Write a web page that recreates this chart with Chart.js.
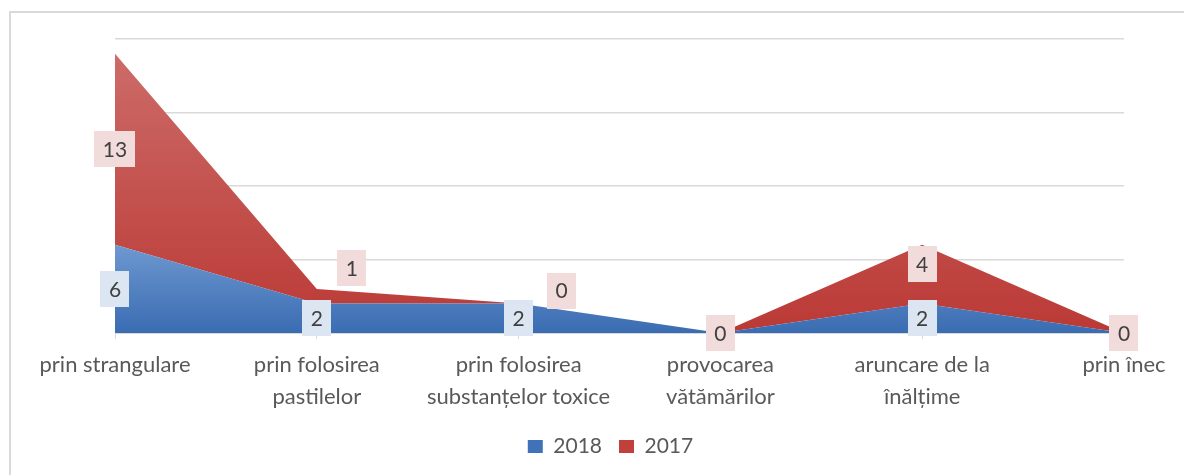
<!DOCTYPE html>
<html>
<head>
<meta charset="utf-8">
<script src="https://cdn.jsdelivr.net/npm/chart.js@4.4.0/dist/chart.umd.min.js"></script>
<style>
  body { margin: 0; background: #fff; }
  canvas { display: block; }
</style>
</head>
<body>
<canvas id="canvas" width="1184" height="475"></canvas>
<script>
const canvas = document.getElementById("canvas");

const categories = [
  "prin strangulare",
  ["prin folosirea", "pastilelor"],
  ["prin folosirea", "substanțelor toxice"],
  ["provocarea", "vătămărilor"],
  ["aruncare de la", "înălțime"],
  "prin înec"
];
const values2018 = [6, 2, 2, 0, 2, 0];
const values2017 = [13, 1, 0, 0, 4, 0];
const yTicks = [0, 5, 10, 15, 20];

const FONT = "Lato, 'Open Sans', sans-serif";

// nudges for a few data labels that sit off the band middle in the original
const labelShift = {
  "1:1": [35, -28],
  "1:2": [43, -13],
  "1:4": [0, -10]
};

function vGradient(chart, fromValue, top, bottom) {
  const { ctx, chartArea, scales } = chart;
  if (!chartArea) return bottom;
  const y0 = scales.y.getPixelForValue(fromValue);
  const g = ctx.createLinearGradient(0, y0, 0, chartArea.bottom);
  g.addColorStop(0, top);
  g.addColorStop(1, bottom);
  return g;
}

const frame = {
  id: "frame",
  beforeDraw(chart) {
    const ctx = chart.ctx;
    ctx.save();
    ctx.strokeStyle = "#d9d9d9";
    ctx.lineWidth = 2;
    ctx.beginPath();
    ctx.moveTo(10, 475);
    ctx.lineTo(10, 12);
    ctx.lineTo(1184, 12);
    ctx.stroke();
    ctx.restore();
  }
};

// the legend in the original sits a bit right of the middle
const legendShift = {
  id: "legendShift",
  afterLayout(chart) {
    const lg = chart.legend;
    lg.left += 44;
    lg.right += 44;
    lg.top -= 6;
    lg.bottom -= 6;
  }
};

const shadow = {
  id: "shadow",
  beforeDatasetDraw(chart) {
    const ctx = chart.ctx;
    ctx.save();
    ctx.shadowColor = "rgba(0,0,0,0.22)";
    ctx.shadowBlur = 4;
    ctx.shadowOffsetX = 1;
    ctx.shadowOffsetY = 1;
  },
  afterDatasetDraw(chart) {
    chart.ctx.restore();
  }
};

const dataLabels = {
  id: "dataLabels",
  afterDatasetsDraw(chart) {
    const ctx = chart.ctx;
    const y = chart.scales.y;
    const bgs = ["#dce6f2", "#f2dcdb"];
    ctx.save();
    ctx.font = "21px " + FONT;
    ctx.textAlign = "center";
    ctx.textBaseline = "middle";
    chart.data.datasets.forEach((ds, di) => {
      const meta = chart.getDatasetMeta(di);
      meta.data.forEach((pt, i) => {
        let base = 0;
        for (let k = 0; k < di; k++) base += chart.data.datasets[k].data[i];
        const v = ds.data[i];
        const shift = labelShift[di + ":" + i] || [0, 0];
        const cx = pt.x + shift[0];
        const cy = y.getPixelForValue(base + v / 2) + shift[1];
        const txt = String(v);
        const w = ctx.measureText(txt).width + 17;
        const h = 36;
        ctx.fillStyle = bgs[di];
        ctx.fillRect(Math.round(cx - w / 2), Math.round(cy - h / 2), Math.round(w), h);
        ctx.fillStyle = "#404040";
        ctx.fillText(txt, cx, cy + 1);
      });
    });
    ctx.restore();
  }
};

new Chart(canvas, {
  type: "line",
  data: {
    labels: categories,
    datasets: [{
      label: "2018",
      data: values2018,
      fill: "origin",
      backgroundColor: ctx => vGradient(ctx.chart, Math.max(...values2018), "#6e98d0", "#3a6cb2"),
      borderWidth: 0,
      pointRadius: 0,
      tension: 0
    }, {
      label: "2017",
      data: values2017,
      fill: "-1",
      backgroundColor: ctx => vGradient(ctx.chart, 20, "#cd6e6b", "#bb3935"),
      borderWidth: 0,
      pointRadius: 0,
      tension: 0
    }]
  },
  options: {
    responsive: false,
    animation: false,
    devicePixelRatio: 1,
    layout: { padding: { left: 9, top: 39, right: 60, bottom: 2 } },
    plugins: {
      tooltip: { enabled: false },
      legend: {
        position: "bottom",
        labels: {
          boxWidth: 15,
          boxHeight: 13,
          padding: 17,
          color: "#595959",
          font: { family: FONT, size: 21 },
          generateLabels(chart) {
            const cols = ["#3f72b8", "#c0403c"];
            return chart.data.datasets.map((ds, i) => ({
              text: ds.label,
              fillStyle: cols[i],
              strokeStyle: cols[i],
              lineWidth: 0,
              fontColor: "#595959",
              datasetIndex: i
            }));
          }
        }
      }
    },
    scales: {
      x: {
        offset: false,
        border: { display: true, color: "#d9d9d9", width: 1 },
        grid: { drawOnChartArea: false, drawTicks: true, tickLength: 6, color: "#d9d9d9" },
        ticks: {
          color: "#595959",
          padding: 10,
          maxRotation: 0,
          autoSkip: false,
          font: { family: FONT, size: 22, lineHeight: 1.45 }
        },
        afterFit(scale) { scale.height = 92; }
      },
      y: {
        stacked: true,
        min: 0,
        max: 20,
        afterBuildTicks(scale) { scale.ticks = yTicks.map(v => ({ value: v })); },
        border: { display: false },
        grid: { color: "#d9d9d9", lineWidth: 1.5, drawTicks: false },
        ticks: { display: false },
        afterFit(scale) { scale.width = 106; }
      }
    }
  },
  plugins: [frame, legendShift, shadow, dataLabels]
});
</script>
</body>
</html>
